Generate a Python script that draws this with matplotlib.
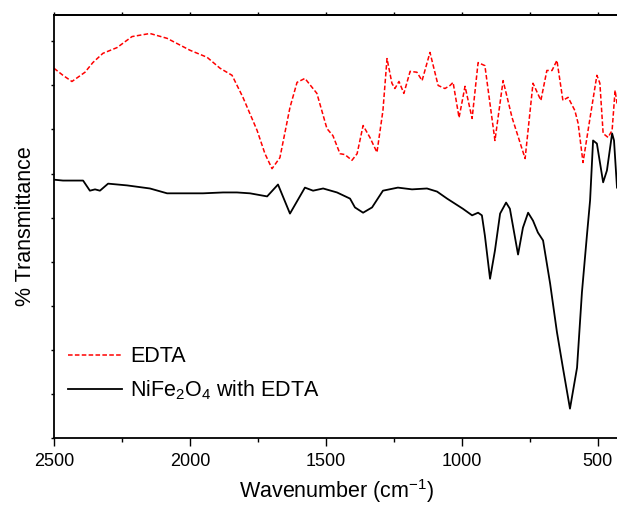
import matplotlib
matplotlib.use("Agg")
import matplotlib.pyplot as plt
from matplotlib.ticker import MultipleLocator

plt.rcParams['font.family'] = ['Liberation Sans', 'DejaVu Sans']
plt.rcParams['mathtext.default'] = 'regular'

# EDTA spectrum (wavenumber in cm-1, %T in arbitrary offset units)
edta_wn = [2500, 2467, 2434, 2386, 2357, 2320, 2268, 2213, 2147, 2084, 2000, 1937,
           1889, 1845, 1805, 1753, 1724, 1698, 1669, 1632, 1606, 1577, 1533, 1496,
           1474, 1448, 1430, 1404, 1385, 1363, 1338, 1312, 1290, 1275, 1257, 1246,
           1231, 1213, 1190, 1165, 1146, 1117, 1087, 1062, 1043, 1032, 1010, 988,
           962, 940, 915, 878, 848, 815, 767, 738, 709, 687, 668, 650, 628, 609,
           584, 572, 554, 528, 503, 492, 480, 462, 447, 436, 429]
edta_t = [83.9, 82.3, 80.9, 83.0, 85.2, 87.3, 88.6, 91.1, 91.8, 90.7, 88.0, 86.4,
          83.9, 82.3, 77.3, 69.8, 64.5, 61.1, 63.6, 75.0, 80.7, 81.6, 78.2, 70.2,
          68.6, 64.5, 64.3, 63.0, 64.5, 70.9, 68.2, 64.8, 74.3, 86.1, 80.5, 79.3,
          80.9, 78.2, 83.2, 83.0, 81.1, 87.5, 80.0, 79.3, 80.0, 80.7, 72.7, 79.8,
          72.5, 85.2, 84.5, 67.5, 81.1, 72.7, 63.4, 80.5, 76.6, 83.4, 83.4, 85.7,
          76.6, 77.3, 74.3, 71.4, 62.5, 72.7, 82.3, 80.5, 69.1, 68.2, 69.8, 78.9, 75.9]

# NiFe2O4 with EDTA spectrum
nife_wn = [2500, 2467, 2393, 2368, 2349, 2331, 2301, 2231, 2147, 2084, 2025, 1952,
           1878, 1827, 1779, 1716, 1676, 1632, 1577, 1547, 1510, 1459, 1411, 1393,
           1363, 1330, 1290, 1235, 1183, 1128, 1091, 1054, 996, 962, 940, 926,
           915, 896, 878, 859, 837, 823, 793, 775, 756, 738, 720, 701, 675, 650,
           628, 602, 576, 558, 539, 528, 517, 503, 480, 466, 447, 440, 429]
nife_t = [58.6, 58.4, 58.4, 56.1, 56.4, 56.1, 57.7, 57.3, 56.6, 55.5, 55.5, 55.5,
          55.7, 55.7, 55.5, 54.8, 57.5, 50.9, 56.8, 56.1, 56.6, 55.7, 54.3, 52.3,
          51.1, 52.3, 56.1, 56.8, 56.4, 56.6, 55.9, 54.3, 52.0, 50.5, 51.1, 50.5,
          45.9, 36.1, 42.5, 50.9, 53.4, 52.0, 41.6, 47.7, 51.1, 49.3, 46.6, 44.8,
          35.0, 24.0, 15.9, 6.6, 15.9, 33.0, 46.4, 53.9, 67.5, 66.8, 58.0, 60.7,
          69.1, 67.5, 56.8]

labels = ["EDTA", "NiFe$_2$O$_4$ with EDTA"]

W, H = 617, 508
x0, y_bot, y_top = 54, 437.7, 15
xmin, xmax = 2500, 420
px_per_unit = (597.7 - 54) / 2000
ax_w = (xmin - xmax) * px_per_unit

fig = plt.figure(figsize=(W / 100, H / 100), dpi=100)
ax = fig.add_axes([x0 / W, (H - y_bot) / H, ax_w / W, (y_bot - y_top) / H])

ax.plot(edta_wn, edta_t, color='#ff0000', lw=1.1, linestyle=(0, (3, 1.5)), label=labels[0])
ax.plot(nife_wn, nife_t, color='black', lw=1.3, label=labels[1])

ax.set_xlim(xmin, xmax)
ax.set_ylim(0, 96)
ax.xaxis.set_major_locator(MultipleLocator(500))
ax.xaxis.set_minor_locator(MultipleLocator(250))
ax.yaxis.set_major_locator(MultipleLocator(10))
ax.set_yticklabels([])
ax.tick_params(axis='x', which='major', direction='out', length=6, width=1, labelsize=13, pad=5)
ax.tick_params(axis='x', which='minor', direction='out', length=3, width=1)
ax.tick_params(axis='y', which='major', direction='out', length=2.2, width=1)
for s in ax.spines.values():
    s.set_linewidth(1.3)

secx = ax.secondary_xaxis('top')
secx.xaxis.set_major_locator(MultipleLocator(250))
secx.tick_params(direction='out', length=2, width=1, labeltop=False)
secx.spines['top'].set_linewidth(1.3)

ax.set_xlabel("Wavenumber (cm$^{-1}$)", fontsize=15.5, labelpad=5)
ax.set_ylabel("% Transmittance", fontsize=15.5, labelpad=7)

ax.legend(loc='lower left', bbox_to_anchor=(14 / ax_w, 0.085), frameon=False, fontsize=15.5,
          borderaxespad=0, borderpad=0,
          handlelength=2.5, handletextpad=0.37, labelspacing=0.5)

fig.savefig("out.png", dpi=100)
